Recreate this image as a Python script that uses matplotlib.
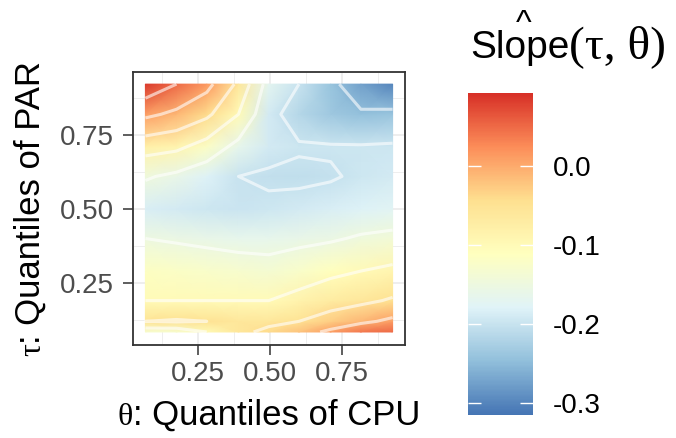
import numpy as np
import matplotlib.pyplot as plt
from matplotlib.colors import LinearSegmentedColormap, Normalize

plt.rcParams['font.family'] = ['Liberation Sans', 'DejaVu Sans']
plt.rcParams['axes.unicode_minus'] = False

# grid of quantile levels (nodes of the surface)
theta = [0.067, 0.175, 0.28, 0.39, 0.495, 0.60, 0.71, 0.815, 0.925]
tau = [0.084, 0.12, 0.19, 0.29, 0.40, 0.50, 0.61, 0.71, 0.82, 0.922]

# estimated slope, rows follow tau (bottom to top), columns follow theta
slope = [
    [-0.13, -0.13, -0.10, -0.06, -0.04, -0.02, 0.01, 0.04, 0.05],
    [-0.05, -0.045, -0.05, -0.06, -0.06, -0.05, -0.03, -0.01, 0.01],
    [-0.10, -0.10, -0.10, -0.10, -0.10, -0.085, -0.07, -0.06, -0.045],
    [-0.115, -0.12, -0.125, -0.13, -0.135, -0.125, -0.11, -0.10, -0.09],
    [-0.15, -0.155, -0.16, -0.165, -0.165, -0.16, -0.155, -0.145, -0.14],
    [-0.185, -0.19, -0.195, -0.198, -0.195, -0.19, -0.185, -0.18, -0.175],
    [-0.145, -0.16, -0.18, -0.2, -0.204, -0.206, -0.203, -0.195, -0.19],
    [-0.08, -0.09, -0.12, -0.165, -0.19, -0.197, -0.197, -0.197, -0.195],
    [0.01, -0.01, -0.04, -0.10, -0.19, -0.215, -0.235, -0.245, -0.24],
    [0.085, 0.05, 0.015, -0.06, -0.17, -0.20, -0.24, -0.275, -0.30],
]

contour_levels = [-0.30, -0.25, -0.20, -0.15, -0.10, -0.05, 0.00, 0.05]
bar_ticks = [-0.3, -0.2, -0.1, 0.0]
bar_labels = ['-0.3', '-0.2', '-0.1', '0.0']
axis_ticks = [0.25, 0.50, 0.75]
axis_labels = ['0.25', '0.50', '0.75']
minor_ticks = [0.125, 0.375, 0.625, 0.875]

W, H = 676, 438
fig = plt.figure(figsize=(W / 100, H / 100), dpi=100)

cmap = LinearSegmentedColormap.from_list(
    'rdylbu7', ['#4575B4', '#91BFDB', '#E0F3F8', '#FFFFBF', '#FEE090', '#FC8D59', '#D73027'])
norm = Normalize(-0.315, 0.092)

ax = fig.add_axes([133 / W, (H - 345) / H, 272 / W, 273 / H])
Z = np.array(slope)
mesh = ax.pcolormesh(theta, tau, Z, shading='gouraud', cmap=cmap, norm=norm)
ax.contour(theta, tau, Z, levels=contour_levels, colors='white', linewidths=2.2,
           linestyles='solid', alpha=0.6)
ax.set_xlim(0.024, 0.968)
ax.set_ylim(0.04, 0.963)
ax.set_xticks(axis_ticks, axis_labels)
ax.set_yticks(axis_ticks, axis_labels)
ax.set_xticks(minor_ticks, minor=True)
ax.set_yticks(minor_ticks, minor=True)
ax.set_axisbelow(True)
ax.grid(which='major', color='#EBEBEB', lw=1.2)
ax.grid(which='minor', color='#EBEBEB', lw=0.6)
ax.tick_params(which='minor', length=0)
ax.tick_params(which='major', length=7, width=1.1, color='#333333',
               labelsize=20, labelcolor='#4D4D4D')
ax.tick_params(axis='x', pad=4.5)
ax.tick_params(axis='y', pad=7)
for s in ax.spines.values():
    s.set_color('#333333')
    s.set_linewidth(1.3)

# colour bar
cax = fig.add_axes([468 / W, (H - 415) / H, 65 / W, 322 / H])
cb = fig.colorbar(mesh, cax=cax, ticks=bar_ticks)
cb.set_ticklabels(bar_labels)
cb.outline.set_visible(False)
cax.tick_params(length=0, pad=14, labelsize=20, labelcolor='black')
cax.hlines(bar_ticks, 0, 0.2, colors='white', lw=1)
cax.hlines(bar_ticks, 0.8, 1, colors='white', lw=1)


def mixed_text(x, y, parts, rotation=0, center=True):
    # place pieces in different fonts one after another (pixel coords)
    r = fig.canvas.get_renderer()
    widths = []
    for s, fam, size in parts:
        t = fig.text(0, 0, s, fontsize=size, family=fam)
        widths.append(t.get_window_extent(r).width)
        t.remove()
    pos = (x if rotation == 0 else y) - (sum(widths) / 2 if center else 0)
    for (s, fam, size), w in zip(parts, widths):
        if rotation == 0:
            fig.text(pos / W, y / H, s, fontsize=size, family=fam,
                     ha='left', va='baseline')
        else:
            fig.text(x / W, pos / H, s, fontsize=size, family=fam,
                     ha='left', va='baseline', rotation=90, rotation_mode='anchor')
        pos += w
    return widths


mixed_text(269, 13, [('θ', 'Liberation Serif', 23), (': Quantiles of CPU', 'Liberation Sans', 25)])
mixed_text(40, H - 208.5, [('τ', 'Liberation Serif', 23), (': Quantiles of PAR', 'Liberation Sans', 25)],
           rotation=90)
w = mixed_text(470, H - 58, [('Slope', 'Liberation Sans', 28), ('(τ, θ)', 'Liberation Serif', 34)],
               center=False)
fig.text((470 + w[0] / 2 + 4) / W, (H - 33) / H, '^', fontsize=24, ha='center', va='baseline')

fig.savefig('out.png', dpi=100)
